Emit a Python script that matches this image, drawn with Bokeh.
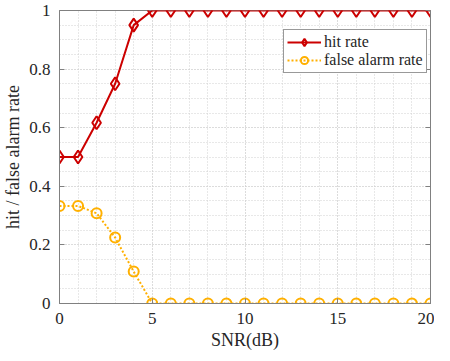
from bokeh.plotting import figure
from bokeh.models import Range1d, LinearAxis, SingleIntervalTicker, Legend, LegendItem
from bokeh.embed import file_html
from bokeh.resources import INLINE

snr = list(range(0, 21))
hit_rate = [0.5, 0.5, 0.617, 0.75, 0.95] + [1.0] * 16
false_alarm = [0.333, 0.333, 0.308, 0.225, 0.109] + [0.0] * 16

x_ticks_interval = 5
y_ticks_interval = 0.2

FONT = "Liberation Serif"
RED = "#CC0000"
ORANGE = "#FFB000"
AX = "#808080"
GRID = "#d0d0d0"

p = figure(width=434, height=352, output_backend="svg", toolbar_location=None,
           x_range=Range1d(0, 20), y_range=Range1d(0, 1),
           min_border_left=10, min_border_right=0, min_border_top=10, min_border_bottom=10)

p.xaxis.ticker = SingleIntervalTicker(interval=x_ticks_interval, num_minor_ticks=5)
p.yaxis.ticker = SingleIntervalTicker(interval=y_ticks_interval, num_minor_ticks=4)

xa = p.xaxis[0]
ya = p.yaxis[0]
for ax in (xa, ya):
    ax.axis_line_color = AX
    ax.major_tick_line_color = AX
    ax.major_tick_in = 5
    ax.major_tick_out = 0
    ax.minor_tick_line_color = None
    ax.major_label_text_font = "Times New Roman"
    ax.major_label_text_font_size = "17px"
    ax.major_label_text_font_style = "normal"
    ax.major_label_text_color = "#262626"
    ax.axis_label_text_font = FONT
    ax.axis_label_text_font_size = "18px"
    ax.axis_label_text_font_style = "normal"
    ax.axis_label_text_color = "#262626"
    ax.major_label_standoff = 5

xa.axis_label = "SNR(dB)"
ya.axis_label = "hit / false alarm rate"
xa.axis_label_standoff = 3
ya.axis_label_standoff = 3

ra = LinearAxis(ticker=SingleIntervalTicker(interval=y_ticks_interval))
ra.axis_line_color = AX
ra.major_tick_line_color = AX
ra.major_tick_in = 5
ra.major_tick_out = 0
ra.minor_tick_line_color = None
ra.major_label_text_font_size = "1px"
ra.major_label_text_color = None
ra.major_label_standoff = 0
p.add_layout(ra, "right")

for g in (p.xgrid, p.ygrid):
    g.grid_line_color = GRID
    g.grid_line_dash = "1 2"
    g.minor_grid_line_color = GRID
    g.minor_grid_line_dash = "1 2"

p.outline_line_color = AX

l1 = p.line(snr, hit_rate, line_color=RED, line_width=2)
s1 = p.scatter(snr, hit_rate, marker="diamond", size=13, line_color=RED,
               fill_color=None, line_width=2)
l2 = p.line(snr, false_alarm, line_color=ORANGE, line_width=2, line_dash="2 2")
s2 = p.scatter(snr, false_alarm, marker="circle", size=10, line_color=ORANGE,
               fill_color=None, line_width=2)

legend = Legend(items=[LegendItem(label="hit rate", renderers=[l1, s1]),
                       LegendItem(label="false alarm rate", renderers=[l2, s2])],
                location=(224, 230))
legend.label_text_font = "Times New Roman"
legend.label_text_font_size = "16px"
legend.label_text_font_style = "normal"
legend.label_text_color = "#262626"
legend.glyph_width = 34
legend.glyph_height = 18
legend.label_height = 18
legend.spacing = 0
legend.padding = 3
legend.label_standoff = 3
legend.margin = 0
legend.border_line_color = "#333333"
legend.border_line_width = 1
legend.background_fill_color = "white"
legend.background_fill_alpha = 1
p.add_layout(legend, "center")

open("out.html", "w").write(file_html(p, INLINE))
